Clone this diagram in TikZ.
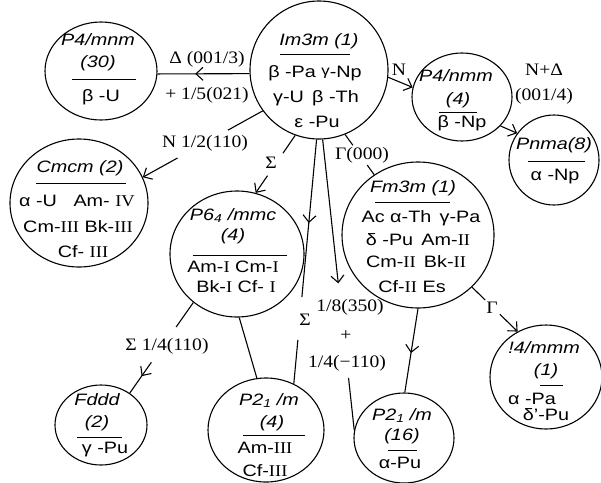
\documentclass[tikz,border=0pt]{standalone}
\usepackage{fontspec}
\setmainfont[FakeStretch=1.2]{Liberation Sans}
\newfontfamily\labfont[FakeStretch=1.12]{Liberation Serif}
\newcommand\romn[1]{{\labfont #1}}
\usetikzlibrary{shapes.geometric,arrows.meta,decorations.markings,calc}
\tikzset{
 state/.style={ellipse, draw, inner sep=0pt},
 txt/.style={inner sep=0pt, anchor=base, font=\fontsize{16.5}{20}\selectfont},
 ttl/.style={inner sep=0pt, anchor=base, font=\fontsize{16.5}{20}\selectfont\itshape},
 lab/.style={inner sep=0pt, anchor=base, font=\fontsize{17.5}{20}\selectfont\labfont},
 rl/.style={line width=1pt},
 midbarb/.style={postaction={decorate}, decoration={markings, mark=at position #1 with {\arrow{>}}}},
}
\begin{document}
\begin{tikzpicture}[x=1pt,y=-1pt,line width=1.1pt, >={Straight Barb[length=7pt,width=13pt]}]
\useasboundingbox (0,0) rectangle (601,482);
% states
\node[state, minimum width=138pt, minimum height=138pt] (im) at (319,70) {};
\node[state, minimum width=112pt, minimum height=98pt] (pa) at (101,71) {};
\node[state, minimum width=100pt, minimum height=88pt] (pb) at (462,97) {};
\node[state, minimum width=90pt, minimum height=90pt] (pc) at (554,160) {};
\node[state, minimum width=138pt, minimum height=128pt] (cm) at (79,203) {};
\node[state, minimum width=134pt, minimum height=126pt] (pd) at (237,254) {};
\node[state, minimum width=152pt, minimum height=146pt] (fm) at (418,235) {};
\node[state, minimum width=92pt, minimum height=80pt] (fd) at (101,425) {};
\node[state, minimum width=116pt, minimum height=104pt] (pe) at (266,430) {};
\node[state, minimum width=100pt, minimum height=90pt] (pf) at (404,438) {};
\node[state, minimum width=112pt, minimum height=104pt] (pg) at (546,377) {};
% texts
\node[ttl] (im1) at (319,45) {Im3m (1)};
\draw[rl] (280,54) -- (350,54);
\node[txt] (im2) at (315,77) {β -Pa \raisebox{2pt}{\fontsize{14}{14}\selectfont γ}-Np};
\node[txt] (im3) at (316,102) {γ-U\enspace β -Th};
\node[txt] (im4) at (317,127) {ε -Pu};

\node[ttl] (pa1) at (98,45) {P4/mnm};
\node[ttl] (pa2) at (98,67) {(30)};
\draw[rl] (72,79) -- (136,79);
\node[txt] (pa3) at (101,101) {β -U};

\node[ttl] (pb1) at (456,81) {P4/nmm};
\node[ttl] (pb2) at (458,104) {(4)};
\draw[rl] (439,112) -- (477,112);
\node[txt] (pb3) at (462,127) {β -Np};

\node[ttl] (pc1) at (554,149) {Pnma(8)};
\draw[rl] (528,161) -- (585,161);
\node[txt] (pc2) at (555,180) {α -Np};

\node[ttl] (cm1) at (80,172) {Cmcm (2)};
\draw[rl] (36,183) -- (126,183);
\node[txt] (cm2) at (77,206) {α -U\quad Am- \romn{IV}};
\node[txt] (cm3) at (78,232) {Cm-\romn{III} Bk-\romn{III}};
\node[txt] (cm4) at (83,257) {Cf- \romn{III}};

\node[ttl] (pd1) at (233,220) {P6\textsubscript{4} /mmc};
\node[ttl] (pd2) at (233,240) {(4)};
\draw[rl] (193,255) -- (287,255);
\node[txt] (pd3) at (233,272) {Am-\romn{I} Cm-\romn{I}};
\node[txt] (pd4) at (236,292) {Bk-\romn{I} Cf- \romn{I}};

\node[ttl] (fm1) at (413,192) {Fm3m (1)};
\draw[rl] (375,202) -- (450,202);
\node[txt] (fm2) at (421,222) {Ac α-Th\enspace γ-Pa};
\node[txt] (fm3) at (418,245) {δ -Pu\enspace Am-\romn{II}};
\node[txt] (fm4) at (416,267) {Cm-\romn{II}\enspace Bk-\romn{II}};
\node[txt] (fm5) at (412,292) {Cf-\romn{II} Es};

\node[ttl] (fd1) at (97,405) {Fddd};
\node[ttl] (fd2) at (97,427) {(2)};
\draw[rl] (77,437) -- (122,437);
\node[txt] (fd3) at (105,453) {γ -Pu};

\node[ttl] (pe1) at (269,405) {P2\textsubscript{1} /m};
\node[ttl] (pe2) at (272,427) {(4)};
\draw[rl] (243,435) -- (305,435);
\node[txt] (pe3) at (265,453) {Am-\romn{III}};
\node[txt] (pe4) at (265,476) {Cf-\romn{III}};

\node[ttl] (pf1) at (402,420) {P2\textsubscript{1} /m};
\node[ttl] (pf2) at (402,440) {(16)};
\draw[rl] (388,450) -- (417,450);
\node[txt] (pf3) at (400,468) {α-Pu};

\node[ttl] (pg1) at (544,353) {!4/mmm};
\node[ttl] (pg2) at (546,375) {(1)};
\draw[rl] (540,385) -- (563,385);
\node[txt] (pg3) at (532,404) {α -Pa};
\node[txt] (pg4) at (546,420) {δ'-Pu};

% connectors
\draw[midbarb=0.59] (im.183) -- (pa.-3);
\node[lab] (la1) at (207,63) {Δ (001/3)};
\node[lab] (la2) at (207,99) {+ 1/5(021)};

\coordinate (b1) at ($(im.216)!0.29!(cm.22)$);
\coordinate (b2) at ($(im.216)!0.71!(cm.22)$);
\draw (im.216) -- (b1);
\draw[->] (b2) -- (cm.22);
\node[lab] (lb) at (205,147) {N 1/2(110)};

\coordinate (c1) at ($(im.250)!0.31!(pd.73)$);
\coordinate (c2) at ($(im.250)!0.70!(pd.73)$);
\draw (im.250) -- (c1);
\draw[->] (c2) -- (pd.73);
\node[lab] (lc) at (271,168) {Σ};

\coordinate (d1) at ($(im.268)!0.645!(pe.59)$);
\coordinate (d2) at ($(im.268)!0.82!(pe.59)$);
\draw[midbarb=0.53] (im.268) -- (d1);
\draw (d2) -- (pe.59);
\node[lab] (ld) at (305,325) {Σ};

\coordinate (e1) at ($(im.273)!0.495!(pf.171)$);
\coordinate (e2) at ($(im.273)!0.82!(pf.171)$);
\draw[->] (im.273) -- (e1);
\draw (e2) -- (pf.171);
\node[lab] (le1) at (350,311) {1/8(350)};
\node[lab] (le2) at (346,340) {+};
\node[lab] (le3) at (347,367) {1/4(−110)};

\coordinate (f1) at ($(im.292)!0.27!(fm.126)$);
\coordinate (f2) at ($(im.292)!0.76!(fm.126)$);
\draw (im.292) -- (f1);
\draw (f2) -- (fm.126);
\node[lab] (lf) at (362,159) {Γ(000)};

\draw[->] (im.354) -- (pb.169);
\node[lab] (lg) at (399,75) {N};

\draw[->] (pb.323) -- (pc.144);
\node[lab] (lh1) at (544,75) {N+Δ};
\node[lab] (lh2) at (544,100) {(001/4)};

\draw[midbarb=0.53] (fm.270) -- (pf.89);

\coordinate (j1) at ($(fm.316)!0.29!(pg.122)$);
\coordinate (j2) at ($(fm.316)!0.61!(pg.122)$);
\draw (fm.316) -- (j1);
\draw[->] (j2) -- (pg.122);
\node[lab] (lj) at (492,313) {Γ};

\coordinate (k1) at ($(pd.228)!0.27!(fd.48)$);
\coordinate (k2) at ($(pd.228)!0.66!(fd.48)$);
\draw (pd.228) -- (k1);
\draw[midbarb=0.45] (k2) -- (fd.48);
\node[lab] (lk) at (167,350) {Σ 1/4(110)};

\draw (pd.272) -- (pe.100);
\end{tikzpicture}
\end{document}
